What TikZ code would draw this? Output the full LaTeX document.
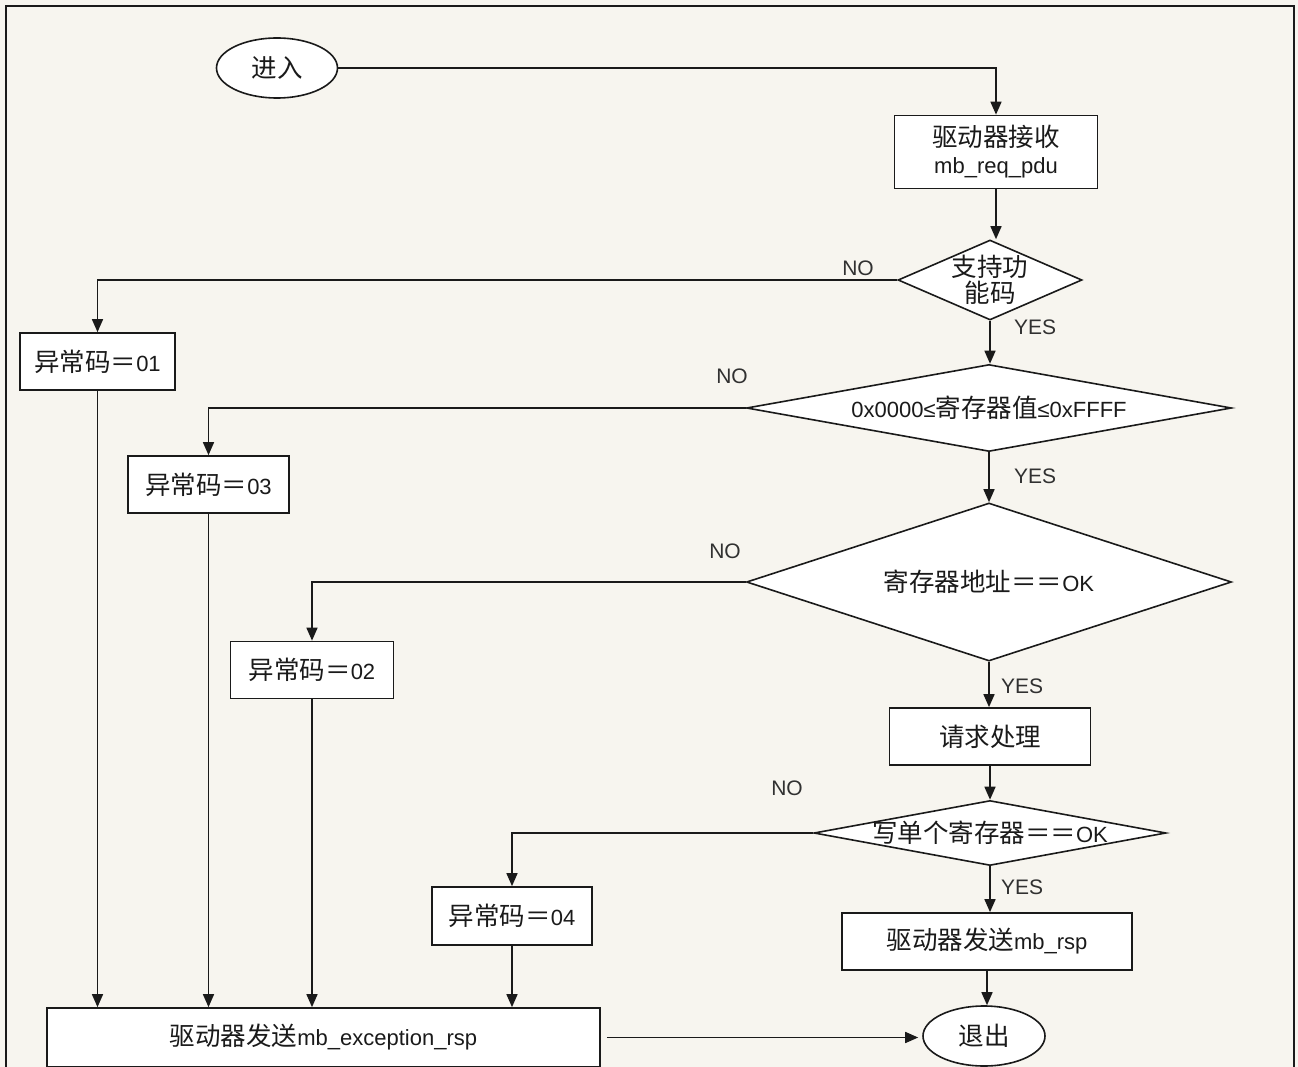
\documentclass[tikz,border=0pt]{standalone}
\usepackage{fontspec}
\setmainfont{Liberation Sans}
\newfontfamily\cjk{Noto Sans CJK SC}
\usetikzlibrary{shapes.geometric,arrows.meta}
\newcommand\zhtxt[1]{{\cjk\fontsize{25.5}{30}\selectfont #1}}
\definecolor{bgcream}{HTML}{F7F5EF}
\definecolor{inkc}{HTML}{1A1A1A}
\begin{document}
\begin{tikzpicture}[x=1pt,y=-1pt,
  every node/.style={text=inkc},
  box/.style={draw=inkc, line width=1.7pt, fill=white, rectangle, inner sep=0pt, font=\fontsize{22}{28}\selectfont, align=center},
  dia/.style={draw=inkc, diamond, fill=white, line width=1.6pt, inner sep=0pt},
  term/.style={draw=inkc, ellipse, fill=white, line width=1.6pt, inner sep=0pt, font=\fontsize{22}{28}\selectfont},
  lbl/.style={font=\fontsize{22}{28}\selectfont, align=center, inner sep=0pt},
  yn/.style={font=\fontsize{21}{24}\selectfont, inner sep=0pt, text=inkc!90},
  ln/.style={draw=inkc, line width=1.6pt},
  arr/.style={ln, -{Triangle[length=13pt,width=11pt]}}
]
\useasboundingbox (0,0) rectangle (1298,1067);
\fill[bgcream] (0,0) rectangle (1298,1067);
\draw[inkc, line width=2.2pt] (6,1067) -- (6,6) -- (1294,6) -- (1294,1067);

% nodes
\node[term, minimum width=121pt, minimum height=60pt] (in) at (277,68) {\zhtxt{进入}};
\node[box, minimum width=203pt, minimum height=73pt] (recv) at (996,152) {\zhtxt{驱动器接收}\\[-1pt]mb\_req\_pdu};
\node[dia, minimum width=184pt, minimum height=80pt,
      label={[lbl]center:\zhtxt{支持功}\\[-2pt]\zhtxt{能码}}] (d1) at (990,280) {};
\node[box, minimum width=155pt, minimum height=57pt] (e01) at (97.5,361.5) {\zhtxt{异常码＝}01};
\node[dia, minimum width=485pt, minimum height=87pt,
      label={[lbl]center:0x0000≤\zhtxt{寄存器值}≤0xFFFF}] (d2) at (989,408) {};
\node[box, minimum width=161pt, minimum height=57pt] (e03) at (208.5,484.5) {\zhtxt{异常码＝}03};
\node[dia, minimum width=485pt, minimum height=158pt,
      label={[lbl]center:\zhtxt{寄存器地址＝＝}OK}] (d3) at (989,582) {};
\node[box, minimum width=163pt, minimum height=57pt] (e02) at (312,670) {\zhtxt{异常码＝}02};
\node[box, minimum width=201pt, minimum height=57pt] (proc) at (990,736.5) {\zhtxt{请求处理}};
\node[dia, minimum width=352pt, minimum height=65pt,
      label={[lbl]center:\zhtxt{写单个寄存器＝＝}OK}] (d4) at (990,833) {};
\node[box, minimum width=160pt, minimum height=58pt] (e04) at (512,916) {\zhtxt{异常码＝}04};
\node[box, minimum width=290pt, minimum height=57pt] (rsp) at (987,941.5) {\zhtxt{驱动器发送}mb\_rsp};
\node[term, minimum width=122pt, minimum height=60pt] (out) at (984,1036) {\zhtxt{退出}};
\node[box, minimum width=553pt, minimum height=59pt] (exc) at (323.5,1037.5) {\zhtxt{驱动器发送}mb\_exception\_rsp};

% labels
\node[yn] (n1) at (858,268) {NO};
\node[yn] (y1) at (1035,327) {YES};
\node[yn] (n2) at (732,376) {NO};
\node[yn] (y2) at (1035,476) {YES};
\node[yn] (n3) at (725,551) {NO};
\node[yn] (y3) at (1022,686) {YES};
\node[yn] (n4) at (787,788) {NO};
\node[yn] (y4) at (1022,887) {YES};

% main flow
\draw[arr] (in.east) -| (recv.north);
\draw[arr] (recv.south) -- (recv.south |- d1.north);
\draw[arr] (d1.south) -- (d1.south |- d2.north);
\draw[arr] (d2.south) -- (d2.south |- d3.north);
\draw[arr] (d3.south) -- (d3.south |- proc.north);
\draw[arr] (proc.south) -- (proc.south |- d4.north);
\draw[arr] (d4.south) -- (d4.south |- rsp.north);
\draw[arr] (rsp.south) -- (rsp.south |- out.north);

% NO branches
\draw[arr] (d1.west) -| (e01.north);
\draw[arr] (d2.west) -| (e03.north);
\draw[arr] (d3.west) -| (e02.north);
\draw[arr] (d4.west) -| (e04.north);

% to exception
\draw[arr] (e01.south) -- (e01.south |- exc.north);
\draw[arr] (e03.south) -- (e03.south |- exc.north);
\draw[arr] (e02.south) -- (e02.south |- exc.north);
\draw[arr] (e04.south) -- (e04.south |- exc.north);
\draw[arr, shorten <=6pt, shorten >=4pt] (exc.east) -- (exc.east -| out.west);
\end{tikzpicture}
\end{document}
